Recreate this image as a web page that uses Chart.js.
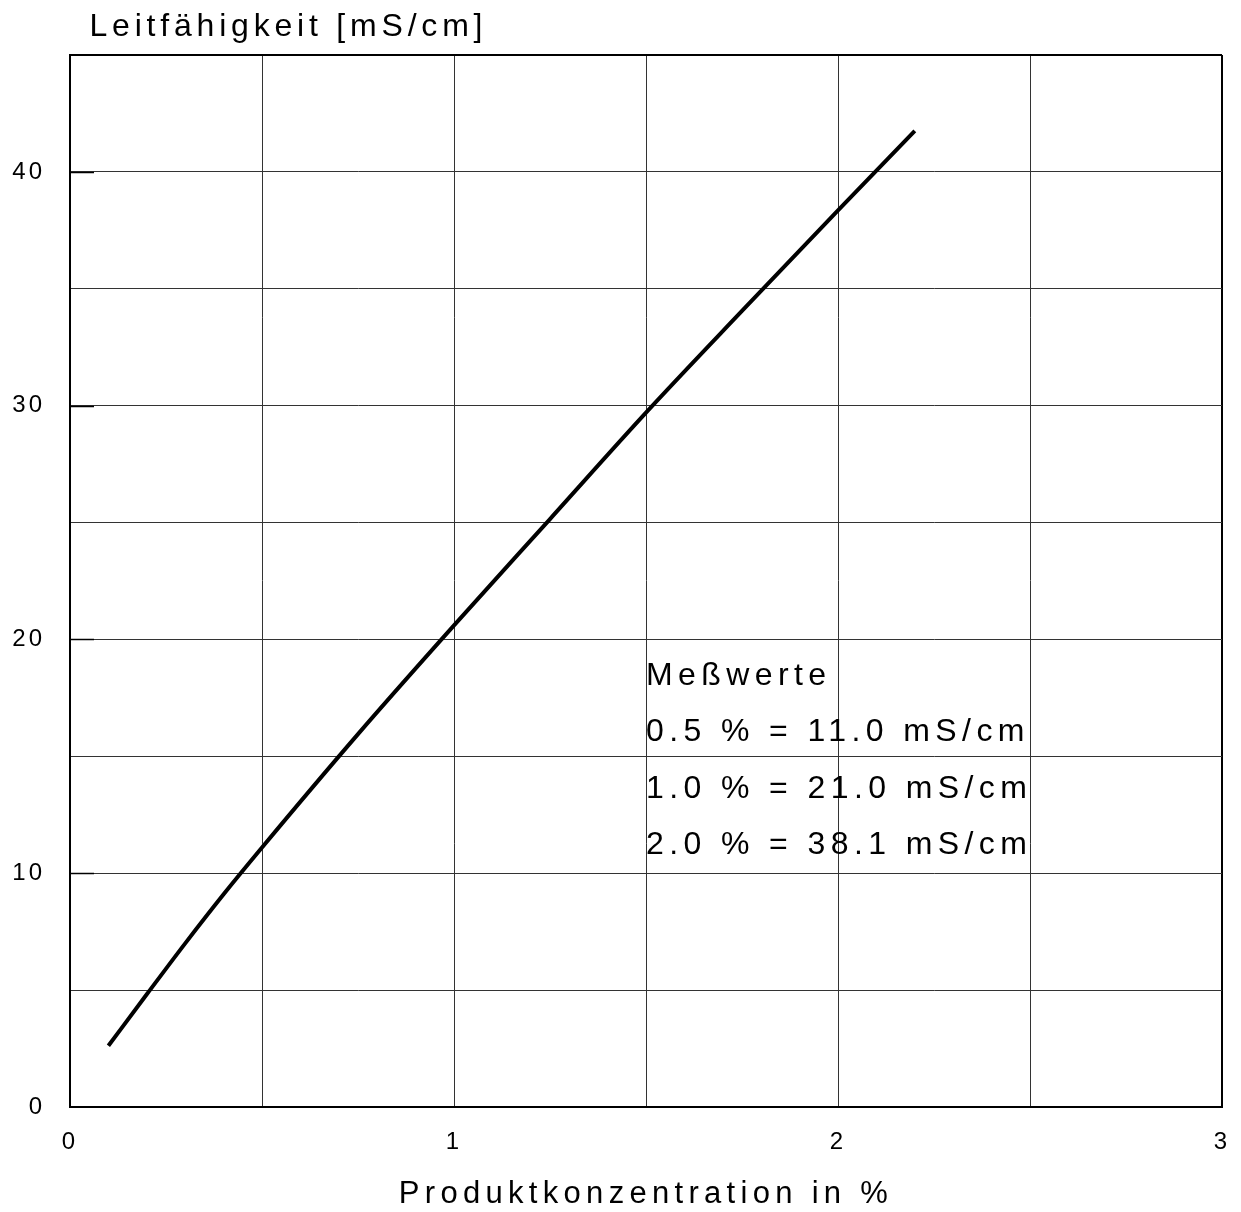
<!DOCTYPE html>
<html>
<head>
<meta charset="utf-8">
<script src="https://cdn.jsdelivr.net/npm/chart.js@4/dist/chart.umd.min.js"></script>
<style>
  html, body { margin: 0; padding: 0; background: #fff; }
  #wrap { width: 1241px; height: 1212px; }
</style>
</head>
<body>
<div id="wrap"><canvas id="chart" width="1241" height="1212"></canvas></div>
<script>
// curve
var concentration = [0.10, 0.20, 0.30, 0.40, 0.50, 0.75, 1.00, 1.25, 1.50, 1.75, 2.00, 2.20];
var conductivity = [2.62, 4.82, 7.0, 9.1, 11.1, 15.95, 20.6, 25.15, 29.7, 34.05, 38.35, 41.75];

// measured values from the text box
var measuredConc = [0.5, 1.0, 2.0];
var measuredCond = [11.0, 21.0, 38.1];

var xTickLabels = [0, 1, 2, 3];
var yTickLabels = [0, 10, 20, 30, 40];
var X_MAX = 3, Y_MAX = 45;

var FONT = '"Liberation Sans", Arial, Helvetica, sans-serif';

function setSpacing(chart) {
    chart.ctx.letterSpacing = '3px';
}

var decor = {
    id: 'decor',
    beforeUpdate: setSpacing,
    beforeDraw: setSpacing,
    beforeDatasetsDraw: function (chart) {
        // short tick marks inside the plot at labelled y values
        var ctx = chart.ctx, a = chart.chartArea, ys = chart.scales.y;
        ctx.save();
        ctx.strokeStyle = '#000';
        ctx.lineWidth = 1.5;
        yTickLabels.forEach(function (v) {
            if (v === 0) return;
            var py = Math.round(ys.getPixelForValue(v)) + 0.5;
            ctx.beginPath();
            ctx.moveTo(a.left, py);
            ctx.lineTo(a.left + 24, py);
            ctx.stroke();
        });
        ctx.restore();
    },
    afterDraw: function (chart) {
        var ctx = chart.ctx, a = chart.chartArea;
        var xs = chart.scales.x, ys = chart.scales.y;
        ctx.save();
        ctx.fillStyle = '#000';
        ctx.textBaseline = 'alphabetic';

        // y axis title, horizontal above the plot
        ctx.font = '32px ' + FONT;
        ctx.letterSpacing = '4.8px';
        ctx.textAlign = 'left';
        ctx.fillText('Leitfähigkeit [mS/cm]', a.left + 19.5, a.top - 19);

        // x axis title
        ctx.font = '31px ' + FONT;
        ctx.letterSpacing = '5.3px';
        ctx.textAlign = 'center';
        ctx.fillText('Produktkonzentration in %', (a.left + a.right) / 2, a.bottom + 96);

        // Meßwerte box
        ctx.font = '32px ' + FONT;
        ctx.letterSpacing = '5.4px';
        ctx.textAlign = 'left';
        var lines = ['Meßwerte'];
        for (var i = 0; i < measuredConc.length; i++) {
            lines.push(measuredConc[i].toFixed(1) + ' % = ' + measuredCond[i].toFixed(1) + ' mS/cm');
        }
        var tx = xs.getPixelForValue(1.5);
        var ty = ys.getPixelForValue(18.07);
        lines.forEach(function (s, k) {
            ctx.fillText(s, tx, ty + k * 56.5);
        });
        ctx.restore();
    }
};

function edgeColor(max) {
    return function (c) {
        return c.tick && c.tick.value === max ? '#000' : '#333';
    };
}
function edgeWidth(max) {
    return function (c) {
        return c.tick && c.tick.value === max ? 2 : 1;
    };
}

var points = concentration.map(function (x, i) {
    return { x: x, y: conductivity[i] };
});

new Chart(document.getElementById('chart').getContext('2d'), {
    type: 'line',
    data: {
        datasets: [{
            data: points,
            borderColor: '#000',
            borderWidth: 4,
            pointRadius: 0,
            fill: false,
            cubicInterpolationMode: 'monotone'
        }]
    },
    options: {
        responsive: false,
        animation: false,
        layout: { padding: { top: 55, right: 19, left: 0, bottom: 0 } },
        plugins: {
            legend: { display: false },
            tooltip: { enabled: false }
        },
        scales: {
            x: {
                type: 'linear',
                min: 0,
                max: X_MAX,
                afterFit: function (s) {
                    s.height = 105;
                    s.paddingLeft = 0;
                    s.paddingRight = 0;
                },
                border: { color: '#000', width: 2 },
                grid: { color: edgeColor(X_MAX), lineWidth: edgeWidth(X_MAX), drawTicks: false },
                ticks: {
                    stepSize: 0.5,
                    padding: 21,
                    color: '#000',
                    maxRotation: 0,
                    autoSkip: false,
                    font: { family: FONT, size: 24 },
                    callback: function (v) { return xTickLabels.indexOf(v) >= 0 ? String(v) : ''; }
                }
            },
            y: {
                min: 0,
                max: Y_MAX,
                afterFit: function (s) { s.width = 70; },
                border: { color: '#000', width: 2 },
                grid: { color: edgeColor(Y_MAX), lineWidth: edgeWidth(Y_MAX), drawTicks: false },
                ticks: {
                    stepSize: 5,
                    padding: 25,
                    color: '#000',
                    autoSkip: false,
                    font: { family: FONT, size: 24 },
                    callback: function (v) { return yTickLabels.indexOf(v) >= 0 ? String(v) : ''; }
                }
            }
        }
    },
    plugins: [decor]
});
</script>
</body>
</html>
